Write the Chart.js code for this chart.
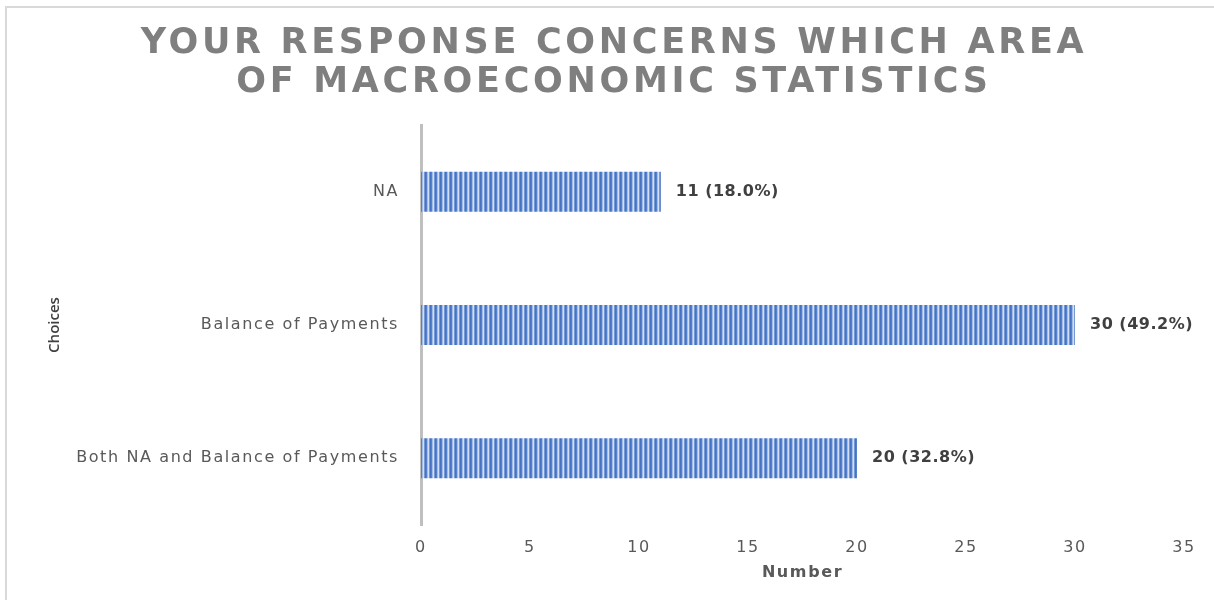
<!DOCTYPE html>
<html>
<head>
<meta charset="utf-8">
<script src="https://cdn.jsdelivr.net/npm/chart.js@4"></script>
<style>
  html, body { margin: 0; padding: 0; background: #fff; }
  #wrap { position: relative; width: 1214px; height: 600px; overflow: hidden; }
  #frame { position: absolute; left: 5px; top: 6px; width: 1300px; height: 700px; border: 2px solid #d9d9d9; box-sizing: border-box; }
  canvas { position: absolute; left: 0; top: 0; }
</style>
</head>
<body>
<div id="wrap">
  <div id="frame"></div>
  <canvas id="chart" width="1214" height="600"></canvas>
</div>
<script>
const titleLines = ['YOUR RESPONSE CONCERNS WHICH AREA', 'OF MACROECONOMIC STATISTICS'];
const choices = ['NA', 'Balance of Payments', 'Both NA and Balance of Payments'];
const counts = [11, 30, 20];
const xTicks = [0, 5, 10, 15, 20, 25, 30, 35];

const total = counts.reduce((a, b) => a + b, 0);

// vertical stripe fill like the office gradient pattern
function stripePattern(ctx) {
  const c = document.createElement('canvas');
  c.width = 5; c.height = 1;
  const p = c.getContext('2d');
  ['#4472c4', '#5580cb', '#a3bbe4', '#d2def3', '#7599d5'].forEach((col, i) => {
    p.fillStyle = col;
    p.fillRect(i, 0, 1, 1);
  });
  return ctx.createPattern(c, 'repeat');
}

// the source picture is stretched sideways, so axis text gets a little tracking
const wideText = {
  id: 'wideText',
  beforeDraw(chart) {
    chart.ctx.letterSpacing = '1.6px';
  },
};

const overlayText = {
  id: 'overlayText',
  afterDraw(chart) {
    const ctx = chart.ctx;
    ctx.save();
    ctx.letterSpacing = '3.7px';
    ctx.font = 'bold 35px "DejaVu Sans"';
    ctx.fillStyle = '#7f7f7f';
    ctx.textAlign = 'center';
    ctx.textBaseline = 'middle';
    titleLines.forEach((t, i) => ctx.fillText(t, 614, 44 + i * 39));

    // y axis title, upright glyphs, no tracking
    const area = chart.chartArea;
    ctx.letterSpacing = '0px';
    ctx.translate(55, (area.top + area.bottom) / 2);
    ctx.rotate(-Math.PI / 2);
    ctx.font = '600 15px "Open Sans"';
    ctx.fillStyle = '#404040';
    ctx.fillText('Choices', 0, 0);
    ctx.restore();
  },
};

const barLabels = {
  id: 'barLabels',
  afterDatasetsDraw(chart) {
    const ctx = chart.ctx;
    const meta = chart.getDatasetMeta(0);
    ctx.save();
    ctx.letterSpacing = '0.5px';
    ctx.font = 'bold 16px "DejaVu Sans"';
    ctx.fillStyle = '#404040';
    ctx.textAlign = 'left';
    ctx.textBaseline = 'middle';
    meta.data.forEach((bar, i) => {
      const pct = (counts[i] / total * 100).toFixed(1);
      ctx.fillText(`${counts[i]} (${pct}%)`, bar.x + 15, bar.y);
    });
    ctx.restore();
  },
};

const canvas = document.getElementById('chart');
const ctx = canvas.getContext('2d');

new Chart(ctx, {
  type: 'bar',
  data: {
    labels: choices,
    datasets: [{
      data: counts,
      backgroundColor: stripePattern(ctx),
      borderWidth: 0,
      categoryPercentage: 1,
      barPercentage: 0.3,
    }],
  },
  options: {
    indexAxis: 'y',
    responsive: false,
    animation: false,
    devicePixelRatio: 1,
    layout: { padding: { top: 125, right: 30, left: 0, bottom: 0 } },
    plugins: { legend: { display: false }, tooltip: { enabled: false }, title: { display: false } },
    scales: {
      x: {
        min: 0,
        max: 35,
        afterBuildTicks(scale) { scale.ticks = xTicks.map(v => ({ value: v })); },
        afterFit(scale) { scale.height = 75; },
        grid: { display: false, drawTicks: false },
        border: { display: false },
        ticks: { color: '#595959', font: { family: 'DejaVu Sans', size: 16 }, padding: 13, maxRotation: 0 },
        title: { display: true, text: 'Number', color: '#595959', font: { family: 'DejaVu Sans', size: 16, weight: 'bold' }, padding: { bottom: 18 } },
      },
      y: {
        afterFit(scale) { scale.width = 421; },
        grid: { display: false, drawTicks: false },
        border: { display: true, color: '#bfbfbf', width: 3 },
        ticks: { color: '#595959', font: { family: 'DejaVu Sans', size: 16 }, padding: 22 },
      },
    },
  },
  plugins: [wideText, barLabels, overlayText],
});
</script>
</body>
</html>
